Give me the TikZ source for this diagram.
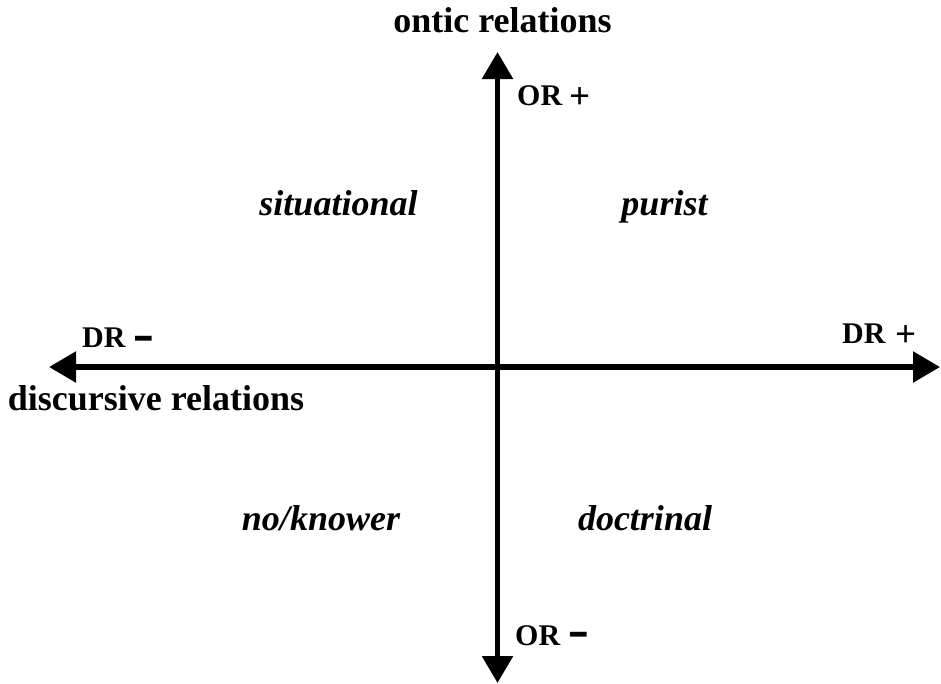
\documentclass[tikz,border=0pt]{standalone}
\usepackage{fontspec}
\setmainfont{Liberation Serif}
\newfontfamily\dvsans{DejaVu Sans}
\usetikzlibrary{arrows.meta}
\tikzset{
  axis/.style={line width=5.5pt, -{Triangle[length=27pt,width=30pt]}},
  biglabel/.style={font=\fontsize{36}{40}\selectfont\bfseries, inner sep=0pt, anchor=base},
  quad/.style={font=\fontsize{36}{40}\selectfont\bfseries\itshape, inner sep=0pt, anchor=base},
  pole/.style={font=\fontsize{30}{34}\selectfont\bfseries, inner sep=0pt, anchor=base west},
  plussign/.style={font=\fontsize{37}{40}\selectfont\bfseries, inner sep=0pt, anchor=base west},
  minussign/.style={font=\fontsize{34}{38}\selectfont\dvsans\bfseries, inner sep=0pt, anchor=base west}
}
\newcommand{\widebar}{\scalebox{1.6}[1]{-}}
\begin{document}
\begin{tikzpicture}[x=1pt,y=-1pt]
\useasboundingbox (0,0) rectangle (941,683);
\coordinate (c) at (497.5,367);
\coordinate (top) at (497.5,52);
\coordinate (bot) at (497.5,683);
\coordinate (lft) at (49,367);
\coordinate (rgt) at (940,367);
\draw[axis] (c) -- (top);
\draw[axis] (c) -- (bot);
\draw[axis] (c) -- (lft);
\draw[axis] (c) -- (rgt);
\node[biglabel] (ontic) at (502.5,32) {ontic relations};
\node[biglabel] (disc) at (156,410) {discursive relations};
\node[quad] (sit) at (338.5,215) {situational};
\node[quad] (pur) at (664.5,215) {purist};
\node[quad] (nok) at (321,530) {no/knower};
\node[quad] (doc) at (645,530) {doctrinal};
\node[pole] (orp) at (517,105) {OR};
\node[plussign] (orpp) at (569,108) {+};
\node[pole] (orm) at (515,645) {OR};
\node[minussign] (ormm) at (567,644) {\widebar};
\node[pole] (drm) at (82,347) {DR};
\node[minussign] (drmm) at (132,348) {\widebar};
\node[pole] (drp) at (842,343) {DR};
\node[plussign] (drpp) at (895,346) {+};
\end{tikzpicture}
\end{document}
